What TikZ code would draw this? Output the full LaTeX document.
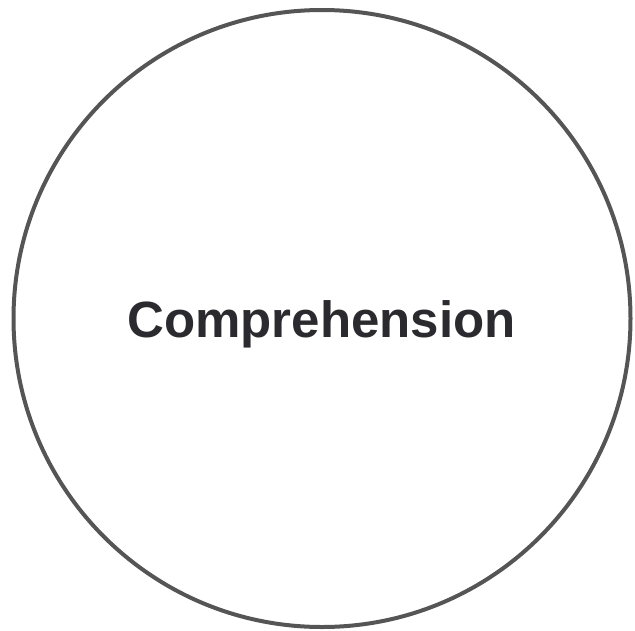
\documentclass[tikz,border=0pt]{standalone}
\usepackage{fontspec}
\setmainfont{Liberation Sans}
\begin{document}
\begin{tikzpicture}[x=1pt,y=1pt,
  ring/.style={circle,draw=ringgray,line width=4pt,minimum size=617pt,inner sep=0pt},
  label/.style={font=\fontsize{51}{60}\selectfont\bfseries,text=textdark}]
\definecolor{ringgray}{HTML}{555555}
\definecolor{textdark}{HTML}{2B2B2F}
\useasboundingbox (0,0) rectangle (635,-630);
\node[ring] (c) at (322,-318.5) {};
\node[label] (t) at (321.5,-324) {Comprehension};
\end{tikzpicture}
\end{document}
